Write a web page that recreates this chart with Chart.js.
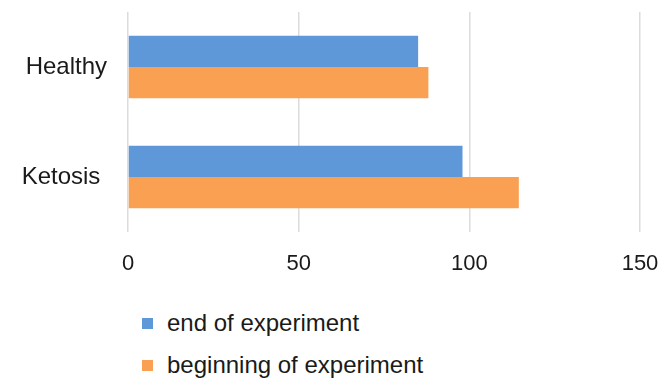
<!DOCTYPE html>
<html>
<head>
<meta charset="utf-8">
<script src="https://cdn.jsdelivr.net/npm/chart.js@4"></script>
<style>
  html, body { margin: 0; padding: 0; background: #fff; }
  #wrap { position: relative; width: 662px; height: 381px; font-family: "Liberation Sans", Arial, sans-serif; }
  #chartBox { position: absolute; left: 0; top: 0; width: 662px; height: 290px; }
  #legend { position: absolute; left: 142px; top: 302px; }
  .item { display: flex; align-items: center; height: 42px; font-size: 24px; color: #1a1a1a; }
  .box { width: 11px; height: 11px; margin-right: 14px; }
</style>
</head>
<body>
<div id="wrap">
  <div id="chartBox"><canvas id="chart"></canvas></div>
  <div id="legend"></div>
</div>
<script>
const categories = ['Healthy', 'Ketosis '];
const endValues = [85, 98];
const beginValues = [88, 114.5];
const seriesNames = ['end of experiment', 'beginning of experiment'];
const seriesColors = ['#5f98d8', '#f9a052'];

const ctx = document.getElementById('chart').getContext('2d');
const chart = new Chart(ctx, {
    type: 'bar',
    data: {
        labels: categories,
        datasets: [
            { label: seriesNames[0], data: endValues, backgroundColor: seriesColors[0] },
            { label: seriesNames[1], data: beginValues, backgroundColor: seriesColors[1] }
        ]
    },
    options: {
        indexAxis: 'y',
        responsive: true,
        maintainAspectRatio: false,
        animation: false,
        layout: { padding: { left: 0, right: 22, top: 12, bottom: 0 } },
        datasets: { bar: { categoryPercentage: 0.566, barPercentage: 1 } },
        plugins: { legend: { display: false }, tooltip: { enabled: false } },
        scales: {
            x: {
                min: 0,
                max: 150,
                ticks: { stepSize: 50, padding: 19, color: '#1a1a1a', font: { family: 'Liberation Sans', size: 22 } },
                grid: { color: '#dcdcdc', lineWidth: 1.5, drawTicks: false },
                border: { display: false },
                afterFit: scale => {
                    scale.height = 58;
                    scale.paddingLeft = 0;
                    scale.paddingRight = 0;
                }
            },
            y: {
                ticks: { padding: 21, color: '#1a1a1a', font: { family: 'Liberation Sans', size: 24 } },
                grid: { display: false, drawTicks: false },
                border: { display: false },
                afterFit: scale => {
                    scale.width = 128;
                    scale.paddingTop = 0;
                    scale.paddingBottom = 0;
                }
            }
        }
    }
});

// Legende als HTML, untereinander
const legend = document.getElementById('legend');
chart.data.datasets.forEach(ds => {
    const row = document.createElement('div');
    row.className = 'item';
    row.innerHTML = `<span class="box" style="background:${ds.backgroundColor}"></span>${ds.label}`;
    legend.appendChild(row);
});
</script>
</body>
</html>
